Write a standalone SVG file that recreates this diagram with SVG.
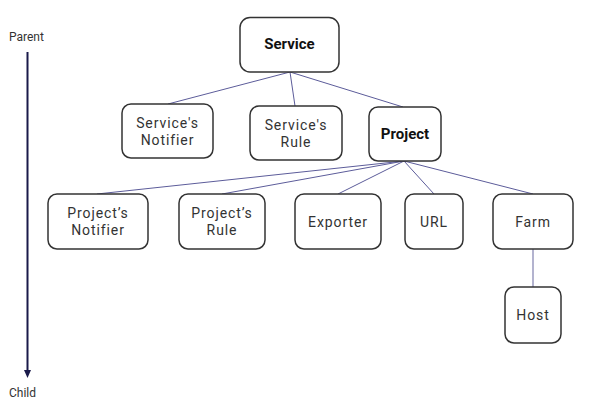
<svg xmlns="http://www.w3.org/2000/svg" width="590" height="415" viewBox="0 0 590 415">
<style>
.box{fill:#fff;stroke:#333;stroke-width:1.5}
.t{font-family:Roboto,"Noto Sans",sans-serif;font-size:14px;fill:#333;text-anchor:middle;letter-spacing:0.9px}
.b{font-family:Roboto,"Noto Sans",sans-serif;font-size:15px;font-weight:bold;fill:#111;text-anchor:middle}
.ax{font-family:Roboto,"Noto Sans",sans-serif;font-size:12px;fill:#333}
.c{stroke:#5c5c9a;stroke-width:1;fill:none}
</style>
<rect width="590" height="415" fill="#fff"/>
<g id="axis">
<text class="ax" x="9" y="41">Parent</text>
<line x1="27.5" y1="52" x2="27.5" y2="372" stroke="#1a1a4a" stroke-width="2"/>
<path d="M24,370 L31,370 L27.5,378 Z" fill="#1a1a4a"/>
<text class="ax" x="9" y="397">Child</text>
</g>
<g id="connectors">
<line class="c" x1="290" y1="72" x2="168" y2="104"/>
<line class="c" x1="290" y1="72" x2="295" y2="106"/>
<line class="c" x1="290" y1="72" x2="403" y2="107"/>
<line class="c" x1="404" y1="161" x2="97" y2="194"/>
<line class="c" x1="404" y1="161" x2="222" y2="194"/>
<line class="c" x1="404" y1="161" x2="338" y2="194"/>
<line class="c" x1="404" y1="161" x2="434" y2="194"/>
<line class="c" x1="404" y1="161" x2="533" y2="194"/>
<line x1="533" y1="249" x2="533" y2="287" stroke="#9a9abf" stroke-width="1.5"/>
</g>
<g id="service">
<rect class="box" x="240" y="17.5" width="99" height="54.5" rx="10"/>
<text class="b" x="289.5" y="49">Service</text>
</g>
<g id="services-notifier">
<rect class="box" x="122" y="104" width="91" height="54" rx="9"/>
<text class="t" x="167.5" y="128">Service's</text>
<text class="t" x="167.5" y="145">Notifier</text>
</g>
<g id="services-rule">
<rect class="box" x="250" y="106" width="92" height="54" rx="9"/>
<text class="t" x="296" y="130">Service's</text>
<text class="t" x="296" y="147">Rule</text>
</g>
<g id="project">
<rect class="box" x="369" y="107" width="72" height="54" rx="9"/>
<text class="b" x="405" y="139">Project</text>
</g>
<g id="projects-notifier">
<rect class="box" x="48" y="194" width="100" height="55" rx="9"/>
<text class="t" x="98" y="218">Project’s</text>
<text class="t" x="98" y="235">Notifier</text>
</g>
<g id="projects-rule">
<rect class="box" x="179" y="194" width="86" height="55" rx="9"/>
<text class="t" x="222" y="218">Project’s</text>
<text class="t" x="222" y="235">Rule</text>
</g>
<g id="exporter">
<rect class="box" x="295" y="194" width="86" height="55" rx="9"/>
<text class="t" x="338" y="227">Exporter</text>
</g>
<g id="url">
<rect class="box" x="405" y="194" width="58" height="55" rx="9"/>
<text class="t" x="434" y="227">URL</text>
</g>
<g id="farm">
<rect class="box" x="493" y="194" width="80" height="55" rx="9"/>
<text class="t" x="533" y="227">Farm</text>
</g>
<g id="host">
<rect class="box" x="505" y="287" width="56" height="56" rx="9"/>
<text class="t" x="533" y="320">Host</text>
</g>
</svg>
